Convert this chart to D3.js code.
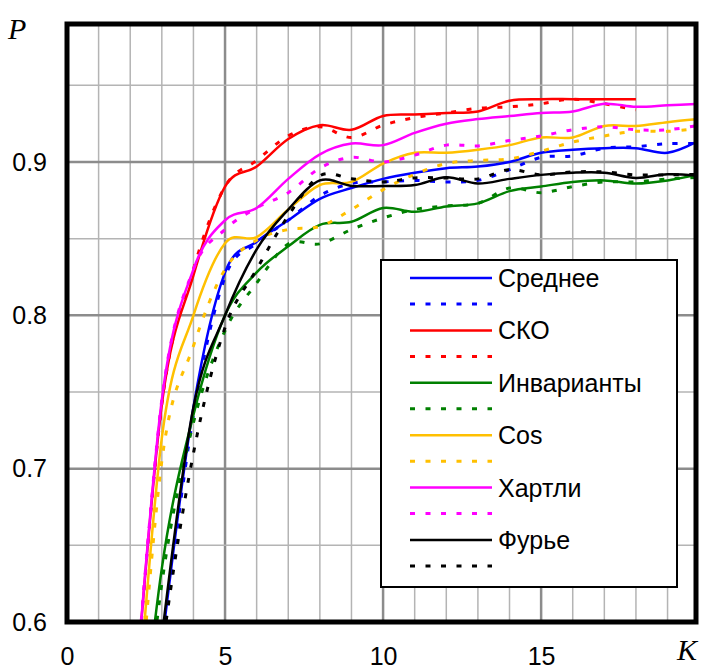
<!DOCTYPE html>
<html>
<head>
<meta charset="utf-8">
<script src="https://cdn.jsdelivr.net/npm/d3@7"></script>
<style>
  body { margin: 0; background: #fff; }
  .axis text { font-family: "Liberation Sans", Arial, sans-serif; font-size: 25px; fill: #000; }
  .legend text { font-family: "Liberation Sans", Arial, sans-serif; font-size: 25px; fill: #000; }
  .axistitle { font-family: "Liberation Serif", "Times New Roman", serif; font-style: italic; font-size: 30px; fill: #000; }
</style>
</head>
<body>
<div id="chart"></div>
<script>
// K values (x axis)
var kValues = [2, 3, 4, 5, 6, 7, 8, 9, 10, 11, 12, 13, 14, 15, 16, 17, 18, 19, 20];

// P values, solid / dashed for every method (null = no point)
var sredneeSolid = [0.40, 0.585, 0.74, 0.828, 0.848, 0.862, 0.876, 0.883, 0.889, 0.893, 0.896, 0.897, 0.900, 0.906, 0.908, 0.909, 0.909, 0.906, 0.914];
var sredneeDash  = [0.40, 0.580, 0.735, 0.825, 0.847, 0.862, 0.878, 0.886, 0.887, 0.888, 0.887, 0.888, 0.895, 0.903, 0.904, 0.909, 0.910, 0.912, 0.912];
var skoSolid     = [0.51, 0.742, 0.826, 0.884, 0.897, 0.915, 0.924, 0.921, 0.930, 0.931, 0.932, 0.933, 0.940, 0.941, 0.941, 0.941, 0.941, null, null];
var skoDash      = [0.51, 0.742, 0.830, 0.884, 0.901, 0.917, 0.923, 0.916, 0.924, 0.929, 0.932, 0.935, 0.936, 0.938, 0.941, 0.938, 0.934, null, null];
var invarSolid   = [0.45, 0.635, 0.735, 0.800, 0.828, 0.845, 0.859, 0.861, 0.870, 0.8675, 0.871, 0.873, 0.881, 0.884, 0.887, 0.888, 0.886, 0.888, 0.892];
var invarDash    = [0.44, 0.625, 0.730, 0.790, 0.821, 0.8465, 0.8466, 0.856, 0.8635, 0.869, 0.8714, 0.873, 0.883, 0.880, 0.884, 0.887, 0.887, 0.889, 0.890];
var cosSolid     = [0.48, 0.720, 0.800, 0.847, 0.851, 0.869, 0.885, 0.887, 0.899, 0.906, 0.906, 0.908, 0.911, 0.916, 0.916, 0.9235, 0.9235, 0.926, 0.928];
var cosDash      = [0.47, 0.705, 0.780, 0.830, 0.849, 0.856, 0.858, 0.869, 0.882, 0.892, 0.899, 0.901, 0.902, 0.907, 0.913, 0.917, 0.920, 0.920, 0.922];
var hartleySolid = [0.51, 0.745, 0.830, 0.862, 0.870, 0.889, 0.905, 0.912, 0.911, 0.919, 0.925, 0.928, 0.930, 0.932, 0.933, 0.938, 0.936, 0.937, 0.938];
var hartleyDash  = [0.51, 0.745, 0.830, 0.856, 0.870, 0.880, 0.896, 0.903, 0.900, 0.9045, 0.911, 0.9105, 0.914, 0.917, 0.921, 0.923, 0.921, 0.921, 0.924];
var fourierSolid = [0.40, 0.590, 0.740, 0.800, 0.843, 0.869, 0.888, 0.8844, 0.8844, 0.885, 0.890, 0.886, 0.889, 0.8916, 0.893, 0.893, 0.8896, 0.892, 0.891];
var fourierDash  = [0.40, 0.580, 0.710, 0.792, 0.830, 0.865, 0.891, 0.889, 0.887, 0.8896, 0.8896, 0.889, 0.895, 0.8916, 0.8935, 0.8935, 0.8916, 0.8916, 0.892];

var names = ["Среднее", "СКО", "Инварианты", "Cos", "Хартли", "Фурье"];
var colors = ["#0000ff", "#ff0000", "#008000", "#ffc000", "#ff00ff", "#000000"];

var xTicks = [0, 5, 10, 15];
var yTicks = [0.6, 0.7, 0.8, 0.9];

var series = [
  { name: names[0], color: colors[0], solid: sredneeSolid, dash: sredneeDash },
  { name: names[1], color: colors[1], solid: skoSolid, dash: skoDash },
  { name: names[2], color: colors[2], solid: invarSolid, dash: invarDash },
  { name: names[3], color: colors[3], solid: cosSolid, dash: cosDash },
  { name: names[4], color: colors[4], solid: hartleySolid, dash: hartleyDash },
  { name: names[5], color: colors[5], solid: fourierSolid, dash: fourierDash }
];

var W = 702, H = 669;
var margin = { top: 24, right: 6, bottom: 47, left: 67 },
  width = W - margin.left - margin.right,
  height = H - margin.top - margin.bottom;

var x = d3.scaleLinear().domain([0, 19.9]).range([0, width]);
var y = d3.scaleLinear().domain([0.6, 0.99]).range([height, 0]);

var svg = d3.select("#chart").append("svg")
  .attr("width", W)
  .attr("height", H);

var g = svg.append("g")
  .attr("transform", "translate(" + margin.left + "," + margin.top + ")");

g.append("clipPath").attr("id", "clip")
  .append("rect").attr("width", width).attr("height", height);

// grid
var xGrid = d3.range(1, 20);
var yGrid = d3.range(0.65, 0.99, 0.05);

g.selectAll(".vgrid").data(xGrid).enter().append("line")
  .attr("x1", function(d) { return x(d); })
  .attr("x2", function(d) { return x(d); })
  .attr("y1", 0).attr("y2", height)
  .attr("stroke", function(d) { return d % 5 === 0 ? "#8c8c8c" : "#b4b4b4"; })
  .attr("stroke-width", function(d) { return d % 5 === 0 ? 2.5 : 1.5; });

g.selectAll(".hgrid").data(yGrid).enter().append("line")
  .attr("y1", function(d) { return y(d); })
  .attr("y2", function(d) { return y(d); })
  .attr("x1", 0).attr("x2", width)
  .attr("stroke", function(d) { return Math.round(d * 100) % 10 === 0 ? "#8c8c8c" : "#b4b4b4"; })
  .attr("stroke-width", function(d) { return Math.round(d * 100) % 10 === 0 ? 2.5 : 1.5; });

// lines
var line = d3.line()
  .defined(function(d) { return d[1] !== null; })
  .x(function(d) { return x(d[0]); })
  .y(function(d) { return y(d[1]); })
  .curve(d3.curveCardinal.tension(0));

var plot = g.append("g").attr("clip-path", "url(#clip)");

series.forEach(function(s) {
  var solidData = kValues.map(function(k, i) { return [k, s.solid[i]]; });
  var dashData = kValues.map(function(k, i) { return [k, s.dash[i]]; });

  plot.append("path")
    .datum(solidData)
    .attr("fill", "none")
    .attr("stroke", s.color)
    .attr("stroke-width", 2.5)
    .attr("d", line);

  plot.append("path")
    .datum(dashData)
    .attr("fill", "none")
    .attr("stroke", s.color)
    .attr("stroke-width", 3)
    .attr("stroke-dasharray", "5,10.5")
    .attr("d", line);
});

// frame
g.append("rect")
  .attr("width", width)
  .attr("height", height)
  .attr("fill", "none")
  .attr("stroke", "#000")
  .attr("stroke-width", 5);

// axes
g.append("g")
  .attr("class", "axis")
  .attr("transform", "translate(0," + height + ")")
  .call(d3.axisBottom(x).tickValues(xTicks).tickSize(0).tickPadding(25).tickFormat(d3.format("d")))
  .call(function(a) { a.select(".domain").remove(); });

g.append("g")
  .attr("class", "axis")
  .call(d3.axisLeft(y).tickValues(yTicks).tickSize(0).tickPadding(20).tickFormat(d3.format(".1f")))
  .call(function(a) { a.select(".domain").remove(); });

svg.append("text")
  .attr("class", "axistitle")
  .attr("x", 8).attr("y", 39)
  .text("P");

svg.append("text")
  .attr("class", "axistitle")
  .attr("x", 677).attr("y", 660)
  .text("K");

// legend
var legendBox = svg.append("g").attr("class", "legend")
  .attr("transform", "translate(381,260)");

legendBox.append("rect")
  .attr("width", 296)
  .attr("height", 327)
  .attr("fill", "#fff")
  .attr("stroke", "#000")
  .attr("stroke-width", 2);

var item = legendBox.selectAll(".item")
  .data(series)
  .enter().append("g")
  .attr("transform", function(d, i) { return "translate(0," + (18 + i * 52.4) + ")"; });

item.append("line")
  .attr("x1", 29).attr("x2", 111)
  .attr("stroke", function(d) { return d.color; })
  .attr("stroke-width", 2.5);

item.append("line")
  .attr("x1", 29).attr("x2", 111)
  .attr("y1", 26).attr("y2", 26)
  .attr("stroke", function(d) { return d.color; })
  .attr("stroke-width", 3)
  .attr("stroke-dasharray", "5,10.5");

item.append("text")
  .attr("x", 117)
  .attr("dy", "0.36em")
  .text(function(d) { return d.name; });
</script>
</body>
</html>
